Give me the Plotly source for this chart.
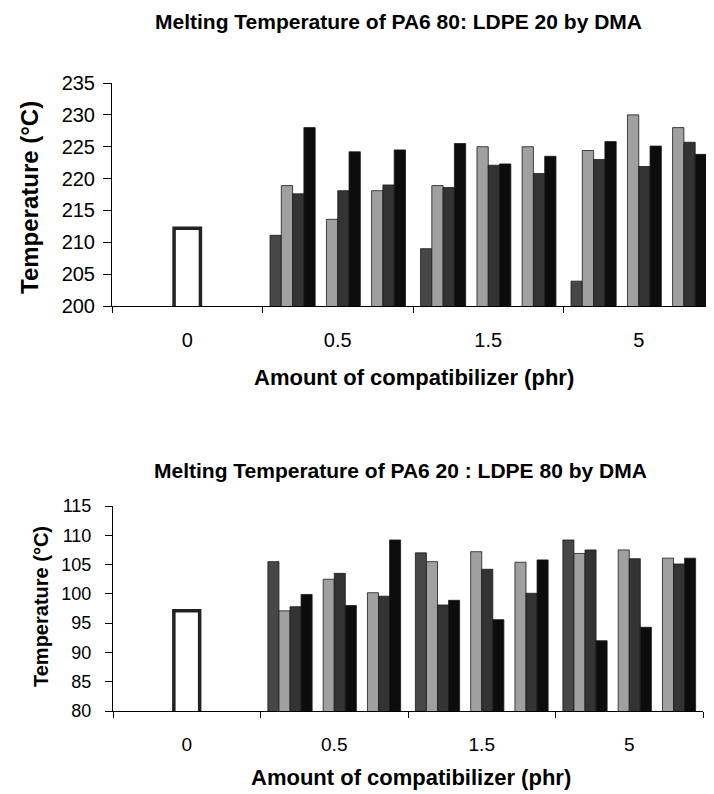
import plotly.graph_objects as go

# target picture size and the page's default body offset
W, H = 714, 794
OFF = 8

categories = ["0", "0.5", "1.5", "5"]

# ---- PA6 80 : LDPE 20 (top) ----
top_neat = 212.2
top_g1_a = [211.1, 209.0, 203.9]
top_g1_b = [218.9, 218.9, 224.4]
top_g1_c = [217.6, 218.6, 223.0]
top_g1_d = [228.0, 225.5, 225.8]
top_g2_b = [213.6, 225.0, 230.0]
top_g2_c = [218.1, 222.1, 221.9]
top_g2_d = [224.2, 222.3, 225.1]
top_g3_b = [218.1, 225.0, 228.0]
top_g3_c = [219.0, 220.8, 225.7]
top_g3_d = [224.5, 223.5, 223.8]

# ---- PA6 20 : LDPE 80 (bottom) ----
bot_neat = 97.1
bot_g1_a = [105.5, 107.0, 109.2]
bot_g1_b = [97.1, 105.5, 106.9]
bot_g1_c = [97.8, 98.1, 107.5]
bot_g1_d = [99.9, 98.9, 92.0]
bot_g2_b = [102.5, 107.2, 107.5]
bot_g2_c = [103.5, 104.2, 106.0]
bot_g2_d = [98.0, 95.6, 94.3]
bot_g3_b = [100.2, 105.4, 106.1]
bot_g3_c = [99.6, 100.1, 105.1]
bot_g3_d = [109.2, 105.8, 106.1]

colors = {"a": "#474747", "b": "#a0a0a0", "c": "#333333", "d": "#0c0c0c"}

top_sets = [
    ("G1 A", top_g1_a, "a"), ("G1 B", top_g1_b, "b"), ("G1 C", top_g1_c, "c"), ("G1 D", top_g1_d, "d"),
    ("G2 A", None, "a"), ("G2 B", top_g2_b, "b"), ("G2 C", top_g2_c, "c"), ("G2 D", top_g2_d, "d"),
    ("G3 A", None, "a"), ("G3 B", top_g3_b, "b"), ("G3 C", top_g3_c, "c"), ("G3 D", top_g3_d, "d"),
]
bot_sets = [
    ("G1 A", bot_g1_a, "a"), ("G1 B", bot_g1_b, "b"), ("G1 C", bot_g1_c, "c"), ("G1 D", bot_g1_d, "d"),
    ("G2 A", None, "a"), ("G2 B", bot_g2_b, "b"), ("G2 C", bot_g2_c, "c"), ("G2 D", bot_g2_d, "d"),
    ("G3 A", None, "a"), ("G3 B", bot_g3_b, "b"), ("G3 C", bot_g3_c, "c"), ("G3 D", bot_g3_d, "d"),
]

FONT = "Liberation Sans, Arial, sans-serif"
fig = go.Figure()


def add_panel(sets, neat, xa, ya, xo):
    for name, vals, key in sets:
        yv = [None] * 4 if vals is None else [None] + list(vals)
        fig.add_trace(go.Bar(
            x=categories, y=yv, name=name, xaxis=xa, yaxis=ya,
            marker=dict(color=colors[key], line=dict(color="#1a1a1a", width=0.8)),
        ))
    fig.add_trace(go.Bar(
        x=categories, y=[neat, None, None, None], name="neat", xaxis=xo, yaxis=ya,
        width=0.175,
        marker=dict(color="white", line=dict(color="#222222", width=3.5)),
    ))


add_panel(top_sets, top_neat, "x", "y", "x3")
add_panel(bot_sets, bot_neat, "x2", "y2", "x4")

FW, FH = W - OFF, H - OFF


def px_x(v):
    return min(1.0, max(0.0, (v - OFF) / FW))


def px_y(v):
    return min(1.0, max(0.0, 1 - (v - OFF) / FH))


xcommon = dict(type="category", categoryorder="array", categoryarray=categories,
               range=[-0.5, 3.5], showgrid=False, zeroline=False, automargin=False)

fig.update_layout(
    template="none",
    width=FW, height=FH, margin=dict(l=0, r=0, t=0, b=0, pad=0, autoexpand=False),
    paper_bgcolor="white", plot_bgcolor="white", showlegend=False,
    barmode="group", bargap=0.1, bargroupgap=0,
    font=dict(family=FONT, color="black"),
    xaxis=dict(**xcommon, domain=[px_x(112), 1.0], anchor="y",
               showline=True, linecolor="black", linewidth=1,
               ticks="outside", tickson="boundaries", ticklen=6, tickcolor="black",
               tickfont=dict(size=20, family=FONT), ticklabelstandoff=16),
    xaxis3=dict(**xcommon, overlaying="x", anchor="y", visible=False),
    yaxis=dict(domain=[px_y(306), px_y(83)], anchor="x", range=[200, 235], dtick=5,
               showline=True, linecolor="black", linewidth=1, showgrid=False, zeroline=False,
               automargin=False,
               ticks="outside", ticklen=8, tickcolor="black",
               tickfont=dict(size=20, family=FONT), ticklabelstandoff=4),
    xaxis2=dict(**xcommon, domain=[px_x(113), px_x(703)], anchor="y2",
                showline=True, linecolor="black", linewidth=1,
                ticks="outside", tickson="boundaries", ticklen=6, tickcolor="black",
                tickfont=dict(size=19, family=FONT), ticklabelstandoff=16),
    xaxis4=dict(**xcommon, overlaying="x2", anchor="y2", visible=False),
    yaxis2=dict(domain=[px_y(711), px_y(506)], anchor="x2", range=[80, 115], dtick=5,
                showline=True, linecolor="black", linewidth=1, showgrid=False, zeroline=False,
                automargin=False,
                ticks="outside", ticklen=7, tickcolor="black",
                tickfont=dict(size=18, family=FONT), ticklabelstandoff=10),
)

annos = [
    dict(text="<b>Melting Temperature of PA6 80: LDPE 20 by DMA</b>", x=px_x(398), y=px_y(21), size=21, angle=0),
    dict(text="<b>Amount of compatibilizer (phr)</b>", x=px_x(414), y=px_y(378), size=22, angle=0),
    dict(text="<b>Temperature (°C)</b>", x=px_x(29), y=px_y(198), size=24, angle=-90),
    dict(text="<b>Melting Temperature of PA6 20 : LDPE 80 by DMA</b>", x=px_x(400), y=px_y(470), size=21, angle=0),
    dict(text="<b>Amount of compatibilizer (phr)</b>", x=px_x(411), y=px_y(777), size=22, angle=0),
    dict(text="<b>Temperature (°C)</b>", x=px_x(41), y=px_y(607), size=20, angle=-90),
]
for a in annos:
    fig.add_annotation(text=a["text"], x=a["x"], y=a["y"], xref="paper", yref="paper",
                       xanchor="center", yanchor="middle", showarrow=False,
                       textangle=a["angle"], font=dict(size=a["size"], family=FONT, color="black"))

fig.write_html("out.html")
